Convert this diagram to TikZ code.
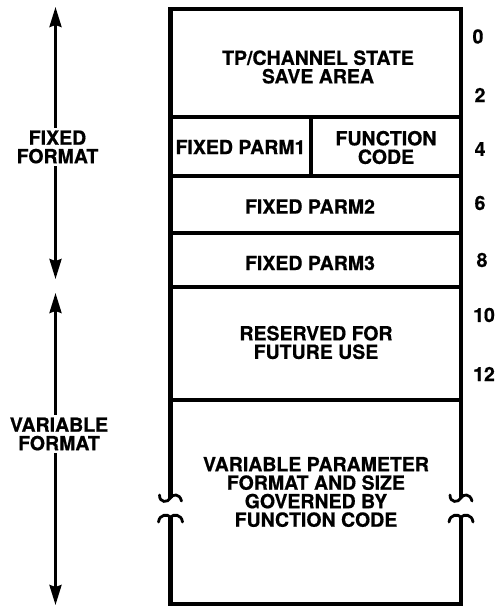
\documentclass[tikz,border=0pt]{standalone}
\usepackage{fontspec}
\setmainfont[FakeBold=0.6]{TeX Gyre Heros}
\usetikzlibrary{arrows.meta}
\begin{document}
\begin{tikzpicture}[x=1pt,y=-1pt,
  every node/.style={font=\bfseries\fontsize{19.5}{18.5}\selectfont, align=center},
  cell/.style={draw, line width=4.5pt, rectangle, inner sep=0pt},
  txt/.style={inner sep=0pt},
  wall/.style={line width=4.5pt},
  brk/.style={line width=2.8pt, line cap=round},
  span/.style={line width=2.8pt, {Stealth[length=20pt,width=12pt,inset=2pt]}-{Stealth[length=20pt,width=12pt,inset=2pt]}},
  lbl/.style={fill=white, inner sep=3pt},
  num/.style={inner sep=0pt}]
\useasboundingbox (0,0) rectangle (500,607);

% rows of the block
\node[cell, minimum width=290.5pt, minimum height=108pt] (save) at (315.75,63) {};
\node[cell, minimum width=140.5pt, minimum height=59pt] (parm1) at (240.75,146.5) {};
\node[cell, minimum width=150pt, minimum height=59pt] (func) at (386,146.5) {};
\node[cell, minimum width=290.5pt, minimum height=57pt] (parm2) at (315.75,204.5) {};
\node[cell, minimum width=290.5pt, minimum height=54pt] (parm3) at (315.75,260) {};
\node[cell, minimum width=290.5pt, minimum height=113pt] (resv) at (315.75,343.5) {};

\node[txt] (savet) at (318,67) {TP/CHANNEL STATE\\SAVE AREA};
\node[txt] (parm1t) at (240.5,147) {FIXED PARM1};
\node[txt] (funct) at (386,147.5) {FUNCTION\\CODE};
\node[txt] (parm2t) at (310,206.5) {FIXED PARM2};
\node[txt] (parm3t) at (310,263) {FIXED PARM3};
\node[txt] (resvt) at (316,342.5) {RESERVED FOR\\FUTURE USE};

% variable area with breaks
\draw[wall] (170.5,400) -- (170.5,498);
\draw[wall] (170.5,517) -- (170.5,604) -- (461,604) -- (461,517);
\draw[wall] (461,498) -- (461,400);
\foreach \xx in {170.5,461}{
  \draw[brk, shift={(\xx,498)}] (-11,-3) .. controls (-11,5) and (-3,5) .. (0,0) .. controls (2,-4) and (9,-5) .. (11,3);
  \draw[brk, shift={(\xx,517)}] (-12,5) .. controls (-11,-3) and (-3,-3) .. (0,0) .. controls (3,-3) and (11,-3) .. (12,5);
}
\node[txt] (var) at (316,492) {VARIABLE PARAMETER\\FORMAT AND SIZE\\GOVERNED BY\\FUNCTION CODE};

% offsets
\node[num] (n0) at (478,36.5) {0};
\node[num] (n2) at (480,95) {2};
\node[num] (n4) at (480,149) {4};
\node[num] (n6) at (480,203) {6};
\node[num] (n8) at (482,260) {8};
\node[num] (n10) at (484,315) {10};
\node[num] (n12) at (484,374) {12};

% spans
\coordinate (fa) at (55.5,7);
\coordinate (fb) at (55.5,279);
\coordinate (va) at (55.5,293);
\coordinate (vb) at (55.5,605);
\draw[span] (fa) -- (fb);
\draw[span] (va) -- (vb);
\node[lbl] (fixed) at (57.5,147) {FIXED\\FORMAT};
\node[lbl] (varf) at (59,434) {VARIABLE\\FORMAT};
\end{tikzpicture}
\end{document}
